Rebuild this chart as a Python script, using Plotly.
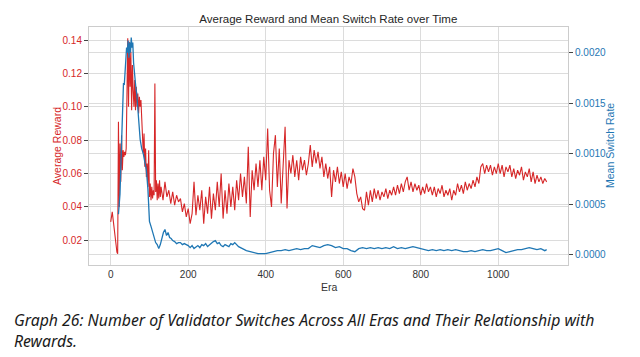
import plotly.graph_objects as go

# ---- data ----
red_eras = list(range(0, 130, 2)) + list(range(130, 1126, 5))
avg_reward = [
    0.031, 0.035, 0.037, 0.033, 0.028, 0.027, 0.022, 0.017, 0.013, 0.012,
    0.091, 0.040, 0.078, 0.055, 0.083, 0.062, 0.074, 0.070, 0.073, 0.071,
    0.075, 0.120, 0.141, 0.100, 0.139, 0.112, 0.133, 0.098, 0.125, 0.110,
    0.100, 0.116, 0.098, 0.112, 0.100, 0.108, 0.096, 0.106, 0.100, 0.104,
    0.094, 0.088, 0.072, 0.084, 0.064, 0.075, 0.058, 0.066, 0.052, 0.074,
    0.046, 0.054, 0.044, 0.052, 0.045, 0.050, 0.047, 0.114, 0.049, 0.056,
    0.044, 0.054, 0.045, 0.056, 0.046,
    # era 130 onward, every 5 eras
    0.052, 0.044, 0.055, 0.046, 0.050, 0.042, 0.049, 0.041, 0.047, 0.043,
    0.045, 0.037, 0.042, 0.034, 0.039, 0.030, 0.036, 0.055, 0.035, 0.047,
    0.038, 0.050, 0.030, 0.046, 0.036, 0.052, 0.033, 0.048, 0.038, 0.055,
    0.040, 0.060, 0.033, 0.050, 0.036, 0.054, 0.040, 0.052, 0.038, 0.056,
    0.044, 0.060, 0.046, 0.058, 0.042, 0.076, 0.034, 0.062, 0.050, 0.066,
    0.052, 0.068, 0.050, 0.070, 0.056, 0.087, 0.050, 0.040, 0.072, 0.083,
    0.052, 0.075, 0.042, 0.070, 0.088, 0.039, 0.068, 0.060, 0.071, 0.058,
    0.068, 0.056, 0.070, 0.062, 0.068, 0.059, 0.066, 0.077, 0.064, 0.074,
    0.066, 0.073, 0.063, 0.070, 0.058, 0.066, 0.057, 0.064, 0.046, 0.062,
    0.055, 0.064, 0.054, 0.061, 0.052, 0.060, 0.051, 0.058, 0.054, 0.063,
    0.058, 0.048, 0.043, 0.046, 0.039, 0.038, 0.049, 0.041, 0.050, 0.043,
    0.051, 0.045, 0.050, 0.044, 0.049, 0.046, 0.051, 0.045, 0.050, 0.047,
    0.052, 0.047, 0.053, 0.048, 0.054, 0.049, 0.055, 0.058, 0.050, 0.055,
    0.049, 0.054, 0.050, 0.053, 0.047, 0.052, 0.048, 0.054, 0.049, 0.052,
    0.047, 0.052, 0.046, 0.051, 0.048, 0.053, 0.046, 0.050, 0.047, 0.051,
    0.044, 0.050, 0.047, 0.054, 0.049, 0.053, 0.048, 0.055, 0.050, 0.054,
    0.051, 0.056, 0.052, 0.058, 0.054, 0.064, 0.066, 0.060, 0.065, 0.061,
    0.065, 0.059, 0.064, 0.060, 0.066, 0.060, 0.065, 0.058, 0.064, 0.061,
    0.065, 0.058, 0.063, 0.057, 0.062, 0.059, 0.064, 0.056, 0.061, 0.058,
    0.063, 0.055, 0.061, 0.054, 0.059, 0.055, 0.058, 0.054, 0.057, 0.055,
]

blue_eras = [
    20, 24, 28, 31, 33, 35, 37, 39, 41, 43, 45, 47, 49, 51, 53, 55, 57, 59,
    61, 63, 65, 67, 70, 73, 76, 80, 84, 88, 92, 96, 100, 104, 108, 112, 116,
    120, 124, 128, 132, 136, 140, 144, 148, 152, 156, 160, 165, 170, 175, 180,
    185, 190, 195, 200, 205, 210, 215, 220, 225, 230, 235, 240, 245, 250, 255,
    260, 265, 270, 275, 280, 285, 290, 295, 300, 305, 310, 315, 320, 325, 330,
    340, 350, 360, 370, 380, 390, 400, 410, 420, 430, 440, 450, 460, 470, 480,
    490, 500, 510, 520, 530, 540, 550, 560, 570, 580, 590, 600, 610, 620, 630,
    640, 650, 660, 670, 680, 690, 700, 710, 720, 730, 740, 750, 760, 770, 780,
    790, 800, 810, 820, 830, 840, 850, 860, 870, 880, 890, 900, 910, 920, 930,
    940, 950, 960, 970, 980, 990, 1000, 1010, 1020, 1030, 1040, 1050, 1060,
    1070, 1080, 1090, 1100, 1110, 1120, 1125,
]
switch_rate = [
    0.00040, 0.00060, 0.00110, 0.00150, 0.00170, 0.00168, 0.00180, 0.00195,
    0.00205, 0.00200, 0.00212, 0.00195, 0.00210, 0.00200, 0.00215, 0.00205,
    0.00210, 0.00190, 0.00180, 0.00175, 0.00165, 0.00160, 0.00145, 0.00125,
    0.00114, 0.00105, 0.00100, 0.00092, 0.00084, 0.00065, 0.00033, 0.00028,
    0.00022, 0.00018, 0.00012, 0.00010, 0.00006, 0.00010, 0.00016, 0.00022,
    0.00025, 0.00019, 0.00022, 0.00017, 0.00016, 0.00014, 0.00013, 0.00011,
    0.00012, 0.00012, 0.00010, 0.00011, 0.00010, 0.00009, 0.00007, 0.00009,
    0.00006, 0.00008, 0.00009, 0.00007, 0.00010, 0.00009, 0.00011, 0.00008,
    0.00010, 0.00012, 0.00013, 0.00014, 0.00011, 0.00012, 0.00009, 0.00008,
    0.00010, 0.00009, 0.00008, 0.00011, 0.00010, 0.00012, 0.00010, 0.00008,
    0.00006, 0.00004, 0.00003, 0.00002, 0.00001, 0.00001, 0.00001, 0.00002,
    0.00003, 0.00004, 0.00004, 0.00005, 0.00004, 0.00005, 0.00006, 0.00005,
    0.00006, 0.00006, 0.00009, 0.00008, 0.00007, 0.00009, 0.00010, 0.00009,
    0.00007, 0.00008, 0.00006, 0.00006, 0.00004, 0.00003, 0.00006, 0.00007,
    0.00006, 0.00007, 0.00006, 0.00007, 0.00006, 0.00007, 0.00006, 0.00008,
    0.00006, 0.00007, 0.00006, 0.00007, 0.00008, 0.00007, 0.00006, 0.00005,
    0.00004, 0.00005, 0.00004, 0.00005, 0.00004, 0.00005, 0.00004, 0.00005,
    0.00004, 0.00003, 0.00003, 0.00004, 0.00003, 0.00004, 0.00005, 0.00004,
    0.00004, 0.00005, 0.00006, 0.00004, 0.00002, 0.00003, 0.00004, 0.00005,
    0.00005, 0.00006, 0.00007, 0.00006, 0.00005, 0.00006, 0.00004, 0.00005,
]

x_ticks = [0, 200, 400, 600, 800, 1000]
title_text = "Average Reward and Mean Switch Rate over Time"
caption_text = ("Graph 26: Number of Validator Switches Across All Eras and Their Relationship with"
                "<br>Rewards.")

RED = "#d62728"
BLUE = "#1f77b4"
GRID = "#dcdcdc"
FONT = "Liberation Sans, Arial, sans-serif"

fig = go.Figure()
fig.add_trace(go.Scatter(x=red_eras, y=avg_reward, mode="lines",
                         line=dict(color=RED, width=1.1), yaxis="y", showlegend=False))
fig.add_trace(go.Scatter(x=blue_eras, y=switch_rate, mode="lines",
                         line=dict(color=BLUE, width=1.3), yaxis="y2", showlegend=False))

fig.update_layout(
    width=640, height=357,
    margin=dict(l=89, r=72, t=27, b=92),
    paper_bgcolor="white", plot_bgcolor="white",
    font=dict(family=FONT, size=10, color="#333333"),
    title=dict(text=title_text, x=0.513, xanchor="center", y=1 - 19 / 357,
               yanchor="middle", yref="container",
               font=dict(family=FONT, size=11.5, color="#262626")),
    xaxis=dict(range=[-56, 1180], tickvals=x_ticks, showgrid=True, gridcolor=GRID,
               gridwidth=1, zeroline=False, showline=True, linecolor="#cccccc",
               mirror=True, ticks="", tickfont=dict(size=10, color="#333333")),
    yaxis=dict(range=[0.0052, 0.1478], dtick=0.02, tick0=0, tickformat=".2f",
               showgrid=True, gridcolor=GRID, zeroline=False, showline=True,
               linecolor="#cccccc", mirror=True, ticks="outside", ticklen=4,
               tickcolor="#444444", tickfont=dict(size=10, color=RED)),
    yaxis2=dict(range=[-0.000102, 0.002254], dtick=0.0005, tick0=0, tickformat=".4f",
                overlaying="y", side="right", showgrid=True, gridcolor=GRID,
                zeroline=False, showline=False, ticks="outside", ticklen=4,
                tickcolor="#444444", tickfont=dict(size=10, color=BLUE)),
    annotations=[
        dict(text="Average Reward", xref="paper", yref="paper", x=-0.0668, y=0.5,
             textangle=-90, showarrow=False, xanchor="center", yanchor="middle",
             font=dict(family=FONT, size=10.5, color=RED)),
        dict(text="Mean Switch Rate", xref="paper", yref="paper", x=1.0877, y=0.5,
             textangle=-90, showarrow=False, xanchor="center", yanchor="middle",
             font=dict(family=FONT, size=10.5, color=BLUE)),
        dict(text="Era", xref="paper", yref="paper", x=(329 - 89) / 479, y=(265 - 287) / 238,
             showarrow=False, xanchor="center", yanchor="middle",
             font=dict(family=FONT, size=10.5, color="#333333")),
        dict(text="<i>" + caption_text + "</i>", xref="paper", yref="paper",
             x=(12 - 89) / 479, y=(265 - 307) / 238, xanchor="left", yanchor="top",
             align="left", showarrow=False,
             font=dict(family="Noto Sans, Open Sans, sans-serif", size=15.8, color="#1a1a1a")),
    ],
)

fig.write_html("out.html", config={"displayModeBar": False},
               post_script="document.body.style.margin='0px';")
